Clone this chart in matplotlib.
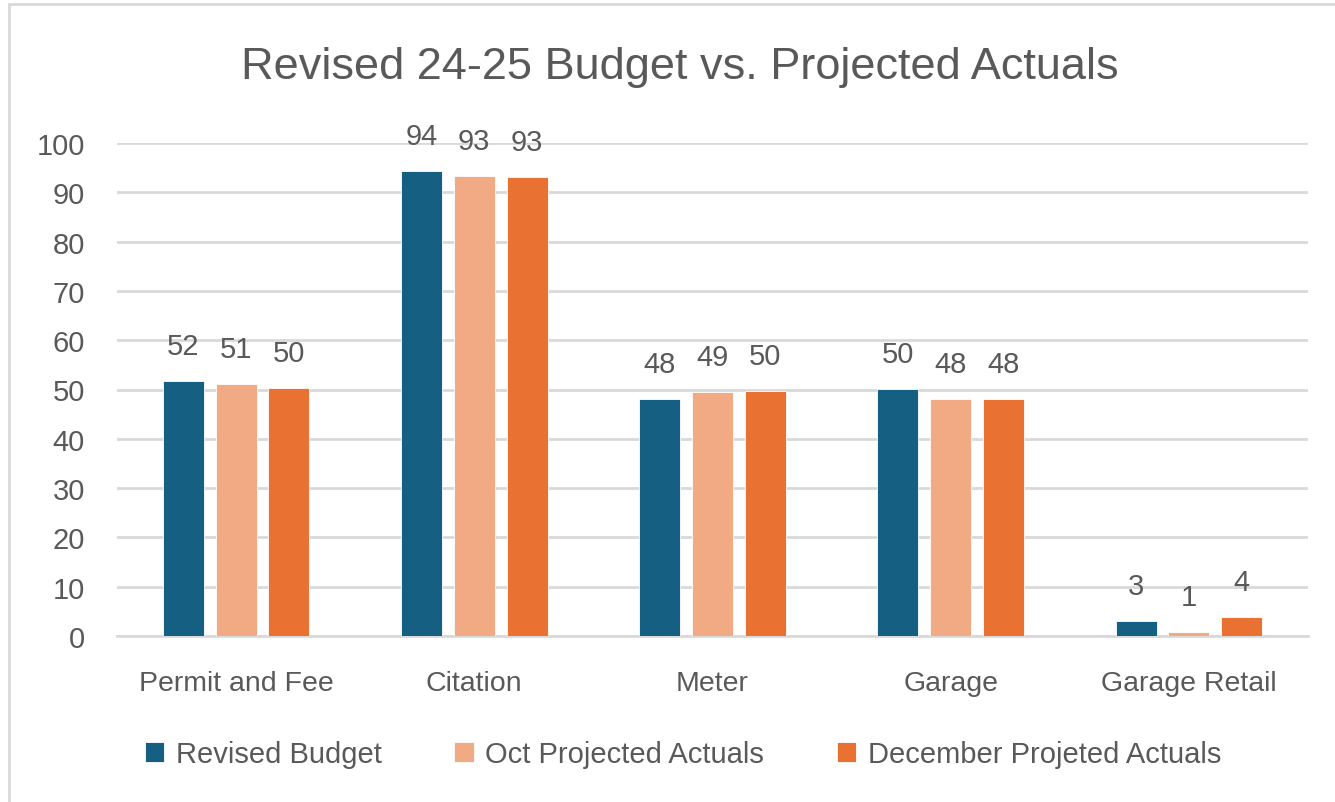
import matplotlib.pyplot as plt
import numpy as np
from matplotlib.patches import Patch, Rectangle

categories = ["Permit and Fee", "Citation", "Meter", "Garage", "Garage Retail"]
series_names = ["Revised Budget", "Oct Projected Actuals", "December Projeted Actuals"]
revised_budget = [51.7, 94.3, 48.1, 50.2, 3.1]
oct_projected = [51.2, 93.4, 49.4, 48.0, 0.9]
dec_projected = [50.4, 93.2, 49.6, 48.0, 3.9]
y_ticks = [0, 10, 20, 30, 40, 50, 60, 70, 80, 90, 100]

colors = ["#156082", "#F2AA84", "#E97132"]
text_color = "#595959"
grid_color = "#D9D9D9"

plt.rcParams["font.family"] = ["Liberation Sans", "DejaVu Sans"]

fig = plt.figure(figsize=(13.35, 8.03), dpi=100)
ax = fig.add_axes([117 / 1335, 1 - 637 / 803, (1308 - 117) / 1335, (637 - 144) / 803])

# рамка области диаграммы (видны только верх и левый край)
fig.add_artist(Rectangle((9 / 1335, -0.1), 1.2, 1.1 - 5 / 803, transform=fig.transFigure,
                         fill=False, edgecolor=grid_color, linewidth=2))

x = np.arange(len(categories))
step = 0.222
width = 0.172

all_series = [revised_budget, oct_projected, dec_projected]
for i, (name, values) in enumerate(zip(series_names, all_series)):
    pos = x + (i - 1) * step
    bars = ax.bar(pos, values, width=width, color=colors[i], edgecolor="white",
                  linewidth=0.6, zorder=3, label=name)
    for rect, v in zip(bars, values):
        ax.annotate(f"{v:.0f}", (rect.get_x() + rect.get_width() / 2, v),
                    xytext=(0, 27), textcoords="offset pixels",
                    ha="center", va="baseline", fontsize=21, color=text_color,
                    annotation_clip=False, zorder=4)

ax.set_xlim(-0.5, len(categories) - 0.5)
ax.set_ylim(0, 100)
ax.set_yticks(y_ticks)
ax.set_xticks(x)
ax.set_xticklabels(categories)
ax.tick_params(axis="y", length=0, pad=23, labelsize=21, labelcolor=text_color)
ax.tick_params(axis="x", length=0, pad=24.5, labelsize=20.5, labelcolor=text_color)

ax.grid(axis="y", color=grid_color, linewidth=2, zorder=0)
for side in ["top", "right", "left"]:
    ax.spines[side].set_visible(False)
ax.spines["bottom"].set_color(grid_color)
ax.spines["bottom"].set_linewidth(2)

fig.text(680 / 1335, 1 - 67 / 803, "Revised 24-25 Budget vs. Projected Actuals",
         ha="center", va="center", fontsize=32.5, color=text_color)

handles = [Patch(facecolor=c, edgecolor="white", linewidth=0.6) for c in colors]
fig.legend(handles, series_names, loc="center", bbox_to_anchor=(683 / 1335, 1 - 755 / 803),
           ncol=3, frameon=False, fontsize=21, labelcolor=text_color,
           handlelength=0.66, handleheight=0.66, handletextpad=0.4, columnspacing=2.5)

plt.savefig("out.png", dpi=100)
plt.close()
